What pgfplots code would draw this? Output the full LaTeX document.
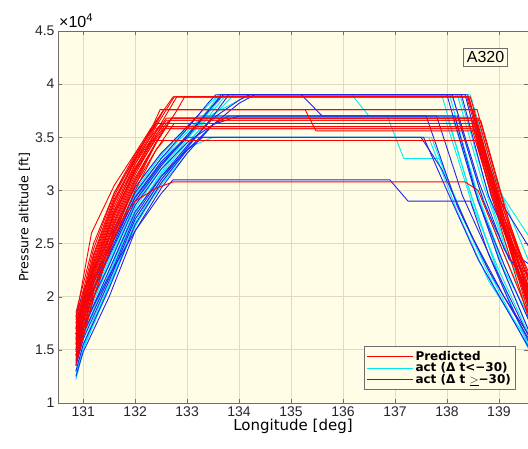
\documentclass[border=0pt]{standalone}
\usepackage{fontspec}
\setmainfont{Liberation Sans}
\newfontfamily\dejavu{DejaVu Sans}
\usepackage{pgfplots}
\pgfplotsset{compat=1.18}
\definecolor{bg}{RGB}{255,253,230}
\definecolor{gridc}{RGB}{222,218,195}
\definecolor{axc}{RGB}{110,110,110}
\definecolor{pred}{RGB}{255,0,0}
\definecolor{actc}{RGB}{0,235,245}
\definecolor{actb}{RGB}{35,35,235}
\begin{document}
\begin{tikzpicture}
\useasboundingbox (-58pt,-45pt) rectangle (470pt,403pt);
\begin{axis}[
  name=ax,
  scale only axis, width=470pt, height=372pt,
  xmin=130.515, xmax=139.56, ymin=1, ymax=4.5,
  axis background/.style={fill=bg},
  axis line style={axc, line width=0.7pt},
  xtick={131,132,133,134,135,136,137,138,139},
  xticklabels={131,132,133,134,135,136,137,138,139},
  ytick={1,1.5,2,2.5,3,3.5,4,4.5},
  yticklabels={1,1.5,2,2.5,3,3.5,4,4.5},
  tick label style={font=\fontsize{14}{16}\selectfont, text=black!85},
  tick align=inside, major tick length=4pt, tick style={axc},
  grid=major, major grid style={gridc, line width=0.8pt},
  xlabel={\dejavu\fontsize{15}{17}\selectfont Longitude [deg]},
  ylabel={\dejavu\fontsize{12.6}{15}\selectfont Pressure altitude [ft]},
  xlabel style={yshift=4pt},
  ylabel style={yshift=-2pt},
  legend style={at={(0.974,0.035)}, anchor=south east, draw=axc, line width=0.8pt, fill=bg,
    font=\dejavu\bfseries\fontsize{12}{13}\selectfont, row sep=-3pt, inner sep=2.5pt},
  legend cell align=left,
  legend image code/.code={\draw[#1, line width=1.1pt] (0pt,0pt) -- (46pt,0pt);},
  every axis plot/.append style={line width=0.9pt},
]
\addlegendimage{pred}
\addlegendentry{Predicted}
\addlegendimage{actc}
\addlegendentry{act (Δ t<−30)}
\addlegendimage{actb}
\addlegendentry{act (Δ t $\underline{>}$−30)}

% ---- act (dt < -30), cyan ----
\addplot[actc, forget plot] coordinates {(130.86,1.30)(131.0,1.55)(131.5,2.15)(132.0,2.73)(132.5,3.10)(133.0,3.42)(133.5,3.75)(133.75,3.90)(138.05,3.90)(138.5,3.10)(139.0,2.35)(139.6,1.65)};
\addplot[actc, forget plot] coordinates {(130.86,1.22)(131.0,1.50)(131.5,2.10)(132.0,2.68)(132.5,3.05)(133.0,3.35)(133.5,3.62)(133.8,3.70)(138.00,3.70)(138.5,2.90)(139.0,2.20)(139.6,1.50)};
\addplot[actc, forget plot] coordinates {(130.86,1.45)(131.0,1.72)(131.5,2.30)(132.0,2.88)(132.5,3.25)(133.0,3.50)(133.5,3.78)(133.7,3.90)(136.17,3.90)(136.5,3.70)(138.10,3.70)(138.6,2.90)(139.1,2.25)(139.6,1.80)};
\addplot[actc, forget plot] coordinates {(130.86,1.55)(131.0,1.80)(131.5,2.40)(132.0,2.96)(132.5,3.30)(133.0,3.55)(133.3,3.70)(136.85,3.70)(137.17,3.30)(137.85,3.30)(138.4,2.65)(139.0,2.05)(139.6,1.48)};
\addplot[actc, forget plot] coordinates {(130.86,1.60)(131.0,1.85)(131.5,2.42)(132.0,2.98)(132.5,3.30)(133.0,3.50)(137.65,3.50)(138.2,2.80)(138.8,2.15)(139.6,1.55)};
\addplot[actc, forget plot] coordinates {(130.86,1.35)(131.0,1.62)(131.5,2.20)(132.0,2.78)(132.5,3.17)(133.0,3.48)(133.5,3.80)(133.65,3.90)(138.20,3.90)(138.7,3.05)(139.2,2.35)(139.6,2.00)};
\addplot[actc, forget plot] coordinates {(130.86,1.70)(131.0,1.95)(131.5,2.50)(132.0,3.03)(132.5,3.35)(133.0,3.58)(133.4,3.70)(138.45,3.70)(139.0,3.00)(139.6,2.55)};
\addplot[actc, forget plot] coordinates {(130.86,1.28)(131.0,1.52)(131.5,2.08)(132.0,2.66)(132.5,3.07)(133.0,3.40)(133.5,3.70)(133.9,3.90)(137.90,3.90)(138.4,3.05)(139.0,2.20)(139.6,1.50)};
\addplot[actc, forget plot] coordinates {(130.86,1.40)(131.0,1.68)(131.5,2.25)(132.0,2.83)(132.5,3.20)(133.0,3.50)(133.4,3.70)(138.15,3.70)(138.6,2.95)(139.1,2.30)(139.6,1.75)};
\addplot[actc, forget plot] coordinates {(130.86,1.50)(131.0,1.78)(131.5,2.35)(132.0,2.90)(132.5,3.27)(133.0,3.52)(133.5,3.82)(133.6,3.90)(138.25,3.90)(138.8,2.95)(139.3,2.25)(139.6,1.95)};
\addplot[actc, forget plot] coordinates {(130.86,1.25)(131.0,1.52)(131.5,2.12)(132.0,2.70)(132.5,3.10)(133.0,3.40)(133.5,3.50)(137.70,3.50)(138.3,2.75)(138.9,2.10)(139.6,1.50)};
\addplot[actc, forget plot] coordinates {(130.86,1.65)(131.0,1.90)(131.5,2.45)(132.0,3.00)(132.5,3.33)(133.0,3.60)(133.5,3.85)(133.6,3.90)(138.45,3.90)(138.9,3.15)(139.6,2.30)};
\addplot[actc, forget plot] coordinates {(130.86,1.38)(131.0,1.65)(131.5,2.22)(132.0,2.80)(132.5,3.15)(133.0,3.45)(133.3,3.60)(133.6,3.70)(137.95,3.70)(138.5,2.85)(139.0,2.25)(139.6,1.62)};
\addplot[actc, forget plot] coordinates {(130.86,1.48)(131.0,1.75)(131.5,2.32)(132.0,2.88)(132.5,3.23)(133.0,3.50)(133.5,3.72)(134.2,3.90)(138.10,3.90)(138.6,3.05)(139.1,2.40)(139.6,1.85)};

% ---- act (dt >= -30), blue ----
\addplot[actb, forget plot] coordinates {(130.86,1.50)(131.0,1.72)(131.5,2.20)(132.0,2.62)(132.5,2.97)(132.73,3.10)(136.9,3.10)(137.25,2.90)(138.45,2.90)(138.8,2.40)(139.2,1.95)(139.6,1.55)};
\addplot[actb, forget plot] coordinates {(130.86,1.75)(131.0,1.98)(131.5,2.45)(132.0,2.93)(132.5,3.25)(133.0,3.50)(133.5,3.80)(133.7,3.90)(135.2,3.90)(135.6,3.70)(138.15,3.70)(138.6,2.90)(139.1,2.30)(139.6,1.75)};
\addplot[actb, forget plot] coordinates {(130.86,1.25)(131.0,1.48)(131.5,2.00)(132.0,2.62)(132.5,3.02)(133.0,3.35)(133.5,3.62)(134.0,3.82)(134.3,3.90)(138.35,3.90)(138.85,2.95)(139.4,2.20)(139.6,2.00)};
\addplot[actb, forget plot] coordinates {(130.86,1.45)(131.0,1.70)(131.5,2.25)(132.0,2.80)(132.5,3.13)(133.0,3.38)(133.3,3.50)(137.55,3.50)(138.0,3.00)(138.6,2.35)(139.6,1.50)};
\addplot[actb, forget plot] coordinates {(130.86,1.60)(131.0,1.85)(131.5,2.38)(132.0,2.90)(132.5,3.23)(133.0,3.52)(133.5,3.80)(133.65,3.90)(138.00,3.90)(138.5,3.05)(139.0,2.35)(139.6,1.65)};
\addplot[actb, forget plot] coordinates {(130.86,1.82)(131.0,2.05)(131.5,2.55)(132.0,3.03)(132.5,3.35)(133.0,3.60)(133.2,3.70)(138.20,3.70)(138.7,2.90)(139.2,2.35)(139.6,2.20)};
\addplot[actb, forget plot] coordinates {(130.86,1.35)(131.0,1.60)(131.5,2.15)(132.0,2.73)(132.5,3.10)(133.0,3.40)(133.5,3.70)(133.8,3.90)(138.10,3.90)(138.6,3.10)(139.1,2.45)(139.6,2.05)};
\addplot[actb, forget plot] coordinates {(130.86,1.55)(131.0,1.80)(131.5,2.30)(132.0,2.86)(132.5,3.20)(133.0,3.45)(133.5,3.62)(134.0,3.70)(137.80,3.70)(138.3,2.95)(138.9,2.30)(139.6,1.60)};
\addplot[actb, forget plot] coordinates {(130.86,1.70)(131.0,1.92)(131.5,2.45)(132.0,2.98)(132.5,3.30)(133.0,3.58)(133.4,3.82)(133.55,3.90)(138.28,3.90)(138.8,2.95)(139.3,2.40)(139.6,2.30)};
\addplot[actb, forget plot] coordinates {(130.86,1.40)(131.0,1.65)(131.5,2.18)(132.0,2.76)(132.5,3.13)(133.0,3.42)(133.5,3.68)(134.0,3.85)(134.2,3.90)(138.40,3.90)(138.9,3.00)(139.6,2.45)};
\addplot[actb, forget plot] coordinates {(130.86,1.30)(131.0,1.55)(131.5,2.08)(132.0,2.68)(132.5,3.07)(133.0,3.38)(133.5,3.62)(133.8,3.70)(137.60,3.70)(138.2,2.85)(138.8,2.25)(139.6,1.58)};
\addplot[actb, forget plot] coordinates {(130.86,1.65)(131.0,1.88)(131.5,2.40)(132.0,2.94)(132.5,3.27)(133.0,3.50)(137.50,3.50)(137.9,3.20)(138.5,2.55)(139.1,2.00)(139.6,1.62)};

% ---- Predicted, red ----
\addplot[pred, forget plot] coordinates {(130.86,1.80)(131.16,2.60)(131.6,3.05)(132.0,3.35)(132.35,3.62)(132.48,3.76)(138.50,3.76)(139.0,2.90)(139.6,1.95)};
\addplot[pred, forget plot] coordinates {(130.86,1.70)(131.2,2.35)(131.6,2.90)(132.0,3.30)(132.4,3.65)(132.73,3.88)(138.40,3.88)(139.0,2.95)(139.6,2.10)};
\addplot[pred, forget plot] coordinates {(130.86,1.60)(131.2,2.25)(131.6,2.80)(132.0,3.25)(132.4,3.60)(132.75,3.88)(138.42,3.88)(139.0,2.85)(139.6,1.90)};
\addplot[pred, forget plot] coordinates {(130.86,1.55)(131.2,2.20)(131.6,2.75)(132.0,3.20)(132.4,3.55)(132.8,3.88)(138.45,3.88)(139.1,2.75)(139.6,1.98)};
\addplot[pred, forget plot] coordinates {(130.86,1.75)(131.2,2.40)(131.6,2.95)(132.0,3.32)(132.35,3.60)(132.55,3.76)(135.27,3.76)(135.48,3.56)(138.55,3.56)(139.1,2.62)(139.6,1.85)};
\addplot[pred, forget plot] coordinates {(130.86,1.65)(131.2,2.30)(131.6,2.85)(132.0,3.25)(132.4,3.55)(132.6,3.68)(138.55,3.68)(139.1,2.70)(139.6,2.00)};
\addplot[pred, forget plot] coordinates {(130.86,1.45)(131.2,2.05)(131.6,2.65)(132.0,3.10)(132.4,3.45)(132.7,3.68)(138.60,3.68)(139.1,2.80)(139.6,2.05)};
\addplot[pred, forget plot] coordinates {(130.86,1.50)(131.2,2.15)(131.6,2.70)(132.0,3.15)(132.4,3.50)(132.65,3.66)(138.50,3.66)(139.05,2.75)(139.6,1.85)};
\addplot[pred, forget plot] coordinates {(130.86,1.62)(131.2,2.28)(131.6,2.82)(132.0,3.22)(132.4,3.52)(132.55,3.63)(138.55,3.63)(139.1,2.65)(139.6,1.90)};
\addplot[pred, forget plot] coordinates {(130.86,1.38)(131.2,2.00)(131.6,2.55)(132.0,3.00)(132.4,3.38)(132.75,3.63)(138.48,3.63)(139.05,2.72)(139.6,2.15)};
\addplot[pred, forget plot] coordinates {(130.86,1.48)(131.2,2.12)(131.6,2.68)(132.0,3.12)(132.4,3.45)(132.6,3.60)(138.60,3.60)(139.15,2.60)(139.6,2.00)};
\addplot[pred, forget plot] coordinates {(130.86,1.85)(131.2,2.50)(131.6,2.98)(132.0,3.30)(132.3,3.58)(138.52,3.58)(139.1,2.62)(139.6,1.80)};
\addplot[pred, forget plot] coordinates {(130.86,1.42)(131.2,2.05)(131.6,2.60)(132.0,3.05)(132.4,3.38)(132.55,3.47)(138.55,3.47)(139.1,2.55)(139.6,1.75)};
\addplot[pred, forget plot] coordinates {(130.86,1.58)(131.2,2.22)(131.6,2.78)(132.0,3.20)(132.3,3.47)(138.62,3.47)(139.15,2.60)(139.6,2.05)};
\addplot[pred, forget plot] coordinates {(130.86,1.52)(131.2,2.15)(131.6,2.62)(132.0,2.90)(132.4,3.02)(132.73,3.08)(138.35,3.08)(138.6,3.00)(139.1,2.40)(139.6,1.80)};
\addplot[pred, forget plot] coordinates {(130.86,1.36)(131.2,1.98)(131.6,2.58)(132.0,3.05)(132.4,3.45)(132.8,3.75)(132.95,3.88)(138.38,3.88)(139.0,2.85)(139.6,2.20)};
\addplot[pred, forget plot] coordinates {(130.86,1.68)(131.2,2.32)(131.6,2.88)(132.0,3.28)(132.4,3.62)(132.55,3.76)(138.58,3.76)(139.1,2.85)(139.6,2.10)};
\addplot[pred, forget plot] coordinates {(130.86,1.72)(131.2,2.38)(131.6,2.92)(132.0,3.28)(132.3,3.50)(132.45,3.60)(138.50,3.60)(139.0,2.80)(139.6,1.92)};
\addplot[pred, forget plot] coordinates {(130.86,1.56)(131.2,2.18)(131.6,2.72)(132.0,3.18)(132.4,3.52)(132.6,3.66)(138.65,3.66)(139.2,2.70)(139.6,2.15)};
\addplot[pred, forget plot] coordinates {(130.86,1.44)(131.2,2.08)(131.6,2.62)(132.0,3.08)(132.4,3.44)(132.7,3.68)(138.46,3.68)(139.0,2.78)(139.6,1.88)};
\addplot[pred, forget plot] coordinates {(130.86,1.64)(131.2,2.26)(131.6,2.78)(132.0,3.18)(132.4,3.48)(132.55,3.58)(138.48,3.58)(139.05,2.68)(139.6,1.95)};
\addplot[pred, forget plot] coordinates {(130.86,1.78)(131.2,2.45)(131.6,2.98)(132.0,3.34)(132.3,3.55)(132.4,3.63)(138.56,3.63)(139.1,2.75)(139.6,2.02)};

\node[draw=axc, line width=0.8pt, fill=bg, inner sep=3pt, font=\fontsize{16}{18}\selectfont]
  at (rel axis cs:0.9096,0.9288) {A320};
\end{axis}
\node[anchor=south west, font=\fontsize{16}{18}\selectfont, inner sep=0pt]
  at ([xshift=1pt,yshift=3pt]ax.north west) {×10\textsuperscript{4}};
\end{tikzpicture}
\end{document}
